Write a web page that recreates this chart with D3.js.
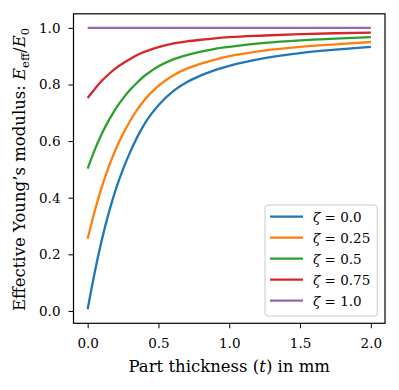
<!DOCTYPE html>
<html>
<head>
<meta charset="utf-8">
<script src="https://cdn.jsdelivr.net/npm/d3@7"></script>
<style>
  body { margin: 0; background: #fff; }
  svg { display: block; }
  text { font-family: "DejaVu Serif", serif; fill: #000; }
</style>
</head>
<body>
<svg id="chart"></svg>
<script>
// thickness samples (mm)
var thickness = [0, 0.05, 0.1, 0.15, 0.2, 0.25, 0.3, 0.35, 0.4, 0.45, 0.5, 0.6, 0.7, 0.8, 0.9, 1.0, 1.25, 1.5, 1.75, 2.0];

// E_eff / E_0, one list per zeta
var zeta00 = [0.006, 0.137, 0.251, 0.348, 0.431, 0.501, 0.561, 0.614, 0.659, 0.696, 0.727, 0.775, 0.808, 0.832, 0.851, 0.866, 0.893, 0.911, 0.923, 0.933];
var zeta025 = [0.255, 0.353, 0.438, 0.511, 0.573, 0.626, 0.671, 0.711, 0.744, 0.772, 0.795, 0.831, 0.856, 0.874, 0.888, 0.900, 0.920, 0.933, 0.942, 0.950];
var zeta05 = [0.503, 0.569, 0.626, 0.674, 0.716, 0.751, 0.781, 0.807, 0.830, 0.848, 0.864, 0.888, 0.904, 0.916, 0.926, 0.933, 0.947, 0.956, 0.962, 0.967];
var zeta075 = [0.752, 0.784, 0.813, 0.837, 0.858, 0.875, 0.890, 0.904, 0.915, 0.924, 0.932, 0.944, 0.952, 0.958, 0.963, 0.967, 0.973, 0.978, 0.981, 0.983];
var zeta10 = [1, 1, 1, 1, 1, 1, 1, 1, 1, 1, 1, 1, 1, 1, 1, 1, 1, 1, 1, 1];

var seriesLabels = ["0.0", "0.25", "0.5", "0.75", "1.0"];
var seriesValues = [zeta00, zeta025, zeta05, zeta075, zeta10];
var colors = ["#1f77b4", "#ff7f0e", "#2ca02c", "#d62728", "#9467bd"];

var xTicks = [0, 0.5, 1.0, 1.5, 2.0];
var yTicks = [0, 0.2, 0.4, 0.6, 0.8, 1.0];

var width = 399, height = 390;
var mLeft = 73.5, mRight = 385, mTop = 13.8, mBottom = 323.3;

var svg = d3.select("#chart")
  .attr("width", width)
  .attr("height", height);

var x = d3.scaleLinear().domain([-0.1, 2.1]).range([mLeft, mRight]);
var y = d3.scaleLinear().domain([-0.0437, 1.0497]).range([mBottom, mTop]);

// axes
var xAxis = svg.append("g")
  .attr("transform", "translate(0," + mBottom + ")")
  .call(d3.axisBottom(x).tickValues(xTicks).tickFormat(d3.format(".1f")).tickSize(5).tickPadding(10));
var yAxis = svg.append("g")
  .attr("transform", "translate(" + mLeft + ",0)")
  .call(d3.axisLeft(y).tickValues(yTicks).tickFormat(d3.format(".1f")).tickSize(5).tickPadding(8));

[xAxis, yAxis].forEach(function(a) {
  a.select(".domain").remove();
  a.selectAll(".tick line").attr("stroke", "#000").attr("stroke-width", 1);
  a.selectAll(".tick text").style("font-size", "13.5px").style("font-family", "'DejaVu Serif', serif");
});

// curves
var line = d3.line()
  .x(function(d) { return x(d[0]); })
  .y(function(d) { return y(d[1]); })
  .curve(d3.curveMonotoneX);

seriesValues.forEach(function(vals, i) {
  svg.append("path")
    .datum(thickness.map(function(t, j) { return [t, vals[j]]; }))
    .attr("d", line)
    .attr("fill", "none")
    .attr("stroke", colors[i])
    .attr("stroke-width", 2.3);
});

// frame
svg.append("rect")
  .attr("x", mLeft).attr("y", mTop)
  .attr("width", mRight - mLeft).attr("height", mBottom - mTop)
  .attr("fill", "none").attr("stroke", "#000").attr("stroke-width", 1.2);

// x label
var xl = svg.append("text")
  .attr("x", (mLeft + mRight) / 2).attr("y", 371.5)
  .attr("text-anchor", "middle")
  .style("font-size", "16.5px");
xl.append("tspan").text("Part thickness (");
xl.append("tspan").style("font-style", "italic").text("t");
xl.append("tspan").text(") in mm");

// y label
var yl = svg.append("text")
  .attr("transform", "translate(25,169.5) rotate(-90)")
  .attr("text-anchor", "middle")
  .style("font-size", "16.5px");
yl.append("tspan").text("Effective Young\u2019s modulus:  ");
yl.append("tspan").style("font-style", "italic").text("E");
yl.append("tspan").style("font-size", "11.5px").attr("dy", 3.5).text("eff");
yl.append("tspan").attr("dy", -3.5).text("/");
yl.append("tspan").style("font-style", "italic").text("E");
yl.append("tspan").style("font-size", "11.5px").attr("dy", 3.5).text("0");

// legend
var lg = svg.append("g");
lg.append("rect")
  .attr("x", 265).attr("y", 205)
  .attr("width", 112.3).attr("height", 111)
  .attr("rx", 3)
  .attr("fill", "#fff").attr("fill-opacity", 0.8)
  .attr("stroke", "#ccc").attr("stroke-width", 1);

seriesLabels.forEach(function(lab, i) {
  var yy = 216.7 + i * 21;
  lg.append("line")
    .attr("x1", 270).attr("x2", 303)
    .attr("y1", yy).attr("y2", yy)
    .attr("stroke", colors[i]).attr("stroke-width", 2.3);
  var t = lg.append("text")
    .attr("x", 313).attr("y", yy + 5)
    .style("font-size", "13.5px");
  t.append("tspan").style("font-style", "italic").text("\u03b6");
  t.append("tspan").text(" = " + lab);
});
</script>
</body>
</html>
